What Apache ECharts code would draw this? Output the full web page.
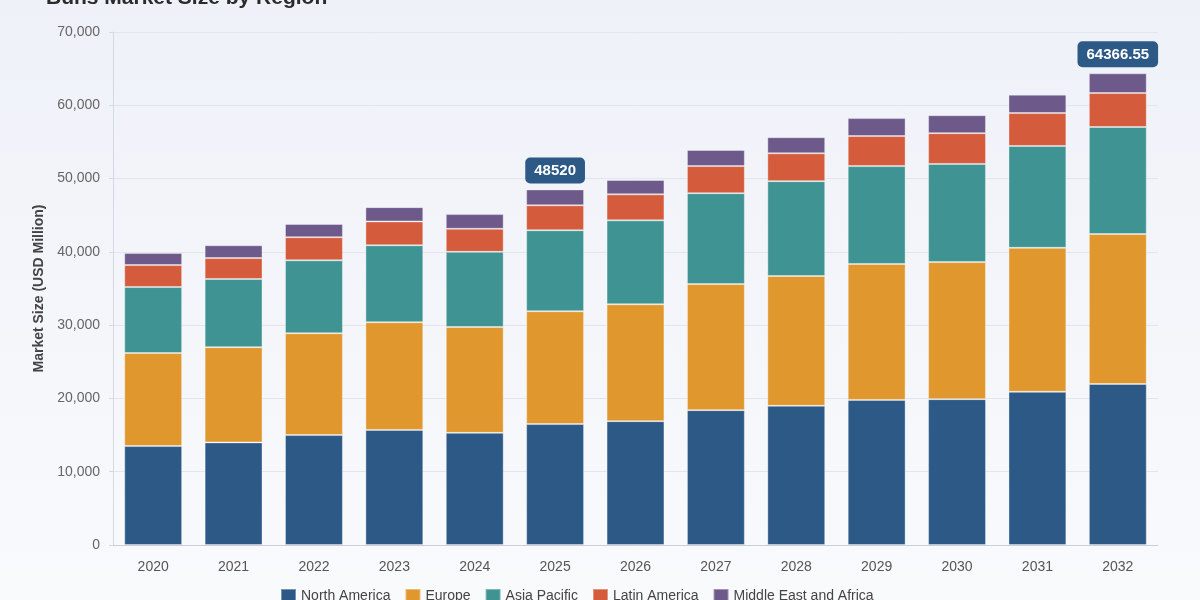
<!DOCTYPE html>
<html>
<head>
<meta charset="utf-8">
<script src="https://cdn.jsdelivr.net/npm/echarts@6/dist/echarts.min.js"></script>
<style>
  html, body { margin: 0; padding: 0; }
  #chart { width: 1200px; height: 600px; }
</style>
</head>
<body>
<div id="chart"></div>
<script>
var years = ["2020", "2021", "2022", "2023", "2024", "2025", "2026", "2027", "2028", "2029", "2030", "2031", "2032"];
var regions = ["North America", "Europe", "Asia Pacific", "Latin America", "Middle East and Africa"];
var northAmerica = [13500, 14000, 15000, 15700, 15300, 16500, 16900, 18400, 19000, 19800, 19900, 20900, 21968];
var europe = [12700, 13000, 13900, 14700, 14450, 15400, 15950, 17200, 17700, 18550, 18700, 19650, 20468];
var asiaPacific = [9000, 9300, 9950, 10500, 10250, 11050, 11450, 12400, 12950, 13350, 13400, 13900, 14600];
var latinAmerica = [3000, 2850, 3150, 3250, 3150, 3400, 3550, 3700, 3800, 4100, 4200, 4500, 4640];
var middleEast = [1650, 1750, 1800, 1950, 2000, 2170, 1950, 2200, 2200, 2450, 2450, 2500, 2690.55];
var labelledYears = ["2025", "2032"];
var colors = ["#2d5987", "#e0982e", "#3f9493", "#d45b3c", "#6e5a8a"];

var seriesValues = [northAmerica, europe, asiaPacific, latinAmerica, middleEast];

function totalAt(i) {
    var s = 0;
    seriesValues.forEach(function(arr) { s += arr[i]; });
    return Math.round(s * 100) / 100;
}

var series = regions.map(function(name, k) {
    var s = {
        name: name,
        type: "bar",
        stack: "total",
        barWidth: "72%",
        data: seriesValues[k],
        itemStyle: {
            color: colors[k],
            borderColor: "rgba(255,255,255,0.35)",
            borderWidth: 1
        }
    };
    // total badge sits on the top segment
    if (k === regions.length - 1) {
        s.data = seriesValues[k].map(function(v, i) {
            if (labelledYears.indexOf(years[i]) === -1) return v;
            return {
                value: v,
                label: {
                    show: true,
                    position: "top",
                    distance: 6,
                    formatter: function() { return String(totalAt(i)); },
                    backgroundColor: "#2d5987",
                    borderRadius: 5,
                    padding: [6, 9, 5, 9],
                    color: "#fff",
                    fontSize: 15,
                    fontWeight: "bold",
                    fontFamily: "Liberation Sans, Arial, sans-serif"
                }
            };
        });
    }
    return s;
});

var chart = echarts.init(document.getElementById("chart"));
chart.setOption({
    backgroundColor: {
        type: "linear", x: 0, y: 0, x2: 0, y2: 1,
        colorStops: [{ offset: 0, color: "#eef1f8" }, { offset: 1, color: "#f9fafc" }]
    },
    textStyle: { fontFamily: "Liberation Sans, Arial, sans-serif" },
    title: {
        text: "Buns Market Size by Region",
        left: 41,
        top: -17,
        textStyle: { fontSize: 21, fontWeight: "bold", color: "#2b2b2b" }
    },
    legend: {
        data: regions,
        bottom: -10,
        left: 275,
        itemWidth: 15,
        itemHeight: 15,
        itemGap: 14,
        icon: "rect",
        textStyle: { fontSize: 14, color: "#444" }
    },
    grid: { left: 113, right: 42, top: 32, bottom: 55 },
    xAxis: {
        type: "category",
        data: years,
        axisLine: { lineStyle: { color: "#c9ced8" } },
        axisTick: { show: false },
        axisLabel: { color: "#555", fontSize: 14, margin: 15 }
    },
    yAxis: {
        type: "value",
        min: 0,
        max: 70000,
        interval: 10000,
        name: "Market Size (USD Million)",
        nameLocation: "middle",
        nameGap: 66,
        nameTextStyle: { fontSize: 14, fontWeight: "bold", color: "#444" },
        axisLine: { show: true, lineStyle: { color: "#d5d9e2" } },
        axisTick: { show: true, length: 4, lineStyle: { color: "#d5d9e2" } },
        axisLabel: {
            color: "#666",
            fontSize: 14,
            margin: 13,
            formatter: function(v) { return v.toLocaleString("en-US"); }
        },
        splitLine: { lineStyle: { color: "#e2e5ec" } }
    },
    series: series
});
</script>
</body>
</html>
